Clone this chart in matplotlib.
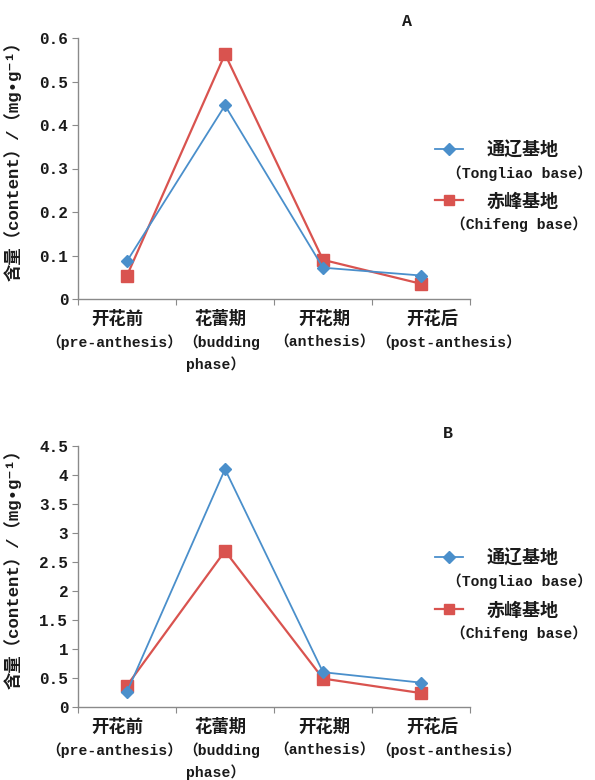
import matplotlib
matplotlib.use("Agg")
import matplotlib.pyplot as plt
from matplotlib.ticker import FuncFormatter, FixedLocator, NullFormatter
from matplotlib.lines import Line2D
from matplotlib.transforms import blended_transform_factory

LAT = ['Liberation Mono', 'Noto Sans CJK SC', 'DejaVu Sans']
CJK = ['Noto Sans CJK SC', 'DejaVu Sans']
plt.rcParams['font.family'] = LAT
plt.rcParams['font.weight'] = 'bold'

cat_cn = ["开花前", "花蕾期", "开花期", "开花后"]
cat_en = [["（pre-anthesis）"], ["（budding", "phase）"], ["（anthesis）"], ["（post-anthesis）"]]
series_cn = ["通辽基地", "赤峰基地"]
series_en = ["（Tongliao base）", "（Chifeng base）"]

a_tongliao = [0.087, 0.445, 0.072, 0.054]
a_chifeng = [0.054, 0.563, 0.090, 0.035]
b_tongliao = [0.26, 4.10, 0.60, 0.42]
b_chifeng = [0.37, 2.69, 0.49, 0.24]

a_yticks = [0, 0.1, 0.2, 0.3, 0.4, 0.5, 0.6]
b_yticks = [0, 0.5, 1, 1.5, 2, 2.5, 3, 3.5, 4, 4.5]

blue = '#4a8fcb'
red = '#d9534f'
txt = '#1a1a1a'
spine = '#8a8a8a'

W, H = 595, 780
fig = plt.figure(figsize=(W / 100, H / 100), dpi=100)

# label layout (pixel centres, px offsets below axis)
cn_xpx = [117, 220, 324, 432]
en_xpx = [[114], [222, 216], [324], [449]]
AX_LEFT, AX_RIGHT, AX_H = 78, 470, 261
catw = (AX_RIGHT - AX_LEFT) / 4.0

def px2data(px):
    return (px - AX_LEFT) / catw - 0.5

def fmt(v, pos):
    return '0' if v == 0 else ('%g' % v)

def panel(rect, t, c, yticks, letter, letter_xy, leg_y):
    ax = fig.add_axes(rect)
    x = list(range(len(cat_cn)))
    ax.plot(x, t, color=blue, lw=1.3, marker='D', ms=6, zorder=3)
    ax.plot(x, c, color=red, lw=1.6, marker='s', ms=8.5, zorder=2)
    ax.set_xlim(-0.5, 3.5)
    ax.set_ylim(yticks[0], yticks[-1])
    ax.set_yticks(yticks)
    ax.yaxis.set_major_formatter(FuncFormatter(fmt))
    ax.xaxis.set_major_locator(FixedLocator([-0.5, 0.5, 1.5, 2.5, 3.5]))
    ax.xaxis.set_major_formatter(NullFormatter())
    ax.tick_params(axis='x', which='major', length=4, color=spine, direction='out')
    ax.tick_params(axis='y', length=4, color=spine, labelsize=11.5, colors=txt, pad=3)
    for lbl in ax.get_yticklabels():
        lbl.set_fontweight('bold')
    for s in ['top', 'right']:
        ax.spines[s].set_visible(False)
    for s in ['left', 'bottom']:
        ax.spines[s].set_color(spine)
        ax.spines[s].set_linewidth(1.0)
    tr = blended_transform_factory(ax.transData, ax.transAxes)
    for i in range(len(cat_cn)):
        ax.text(px2data(cn_xpx[i]), -20 / AX_H, cat_cn[i], transform=tr, ha='center', va='center',
                fontsize=12.5, family=CJK, color=txt, fontweight='bold')
        for j, line in enumerate(cat_en[i]):
            ax.text(px2data(en_xpx[i][j]), -(43 + 22 * j) / AX_H, line, transform=tr,
                    ha='center', va='center', fontsize=10.6, family=LAT, color=txt, fontweight='bold')
    ax.set_ylabel('含量（content）/（mg•g⁻¹）', fontsize=12.5, color=txt, fontweight='bold',
                  family=LAT)
    ax.yaxis.set_label_coords(-0.144, 0.545)
    fig.text(letter_xy[0] / W, 1 - letter_xy[1] / H, letter, fontsize=12,
             ha='center', va='center', color=txt, fontweight='bold')
    # legend
    specs = [(blue, 'D', 6, 1.3), (red, 's', 6.5, 1.6)]
    for k in range(2):
        col, mk, ms, lw = specs[k]
        y0 = leg_y[k]
        fig.add_artist(Line2D([435 / W, 449 / W, 463 / W], [1 - y0 / H] * 3, transform=fig.transFigure,
                              color=col, lw=lw, marker=mk, ms=ms, markevery=[1]))
        fig.text(523 / W, 1 - (y0 + 1) / H, series_cn[k], ha='center', va='center', fontsize=13,
                 family=CJK, color=txt, fontweight='bold')
        fig.text(519 / W, 1 - (y0 + 24) / H, series_en[k], ha='center', va='center', fontsize=10.6,
                 family=LAT, color=txt, fontweight='bold')
    return ax

panel([AX_LEFT / W, 1 - 299 / H, (AX_RIGHT - AX_LEFT) / W, AX_H / H],
      a_tongliao, a_chifeng, a_yticks, 'A', (407, 21), (149, 200))
panel([AX_LEFT / W, 1 - 707 / H, (AX_RIGHT - AX_LEFT) / W, AX_H / H],
      b_tongliao, b_chifeng, b_yticks, 'B', (448, 433), (557, 609))

fig.savefig('out.png', dpi=100)
